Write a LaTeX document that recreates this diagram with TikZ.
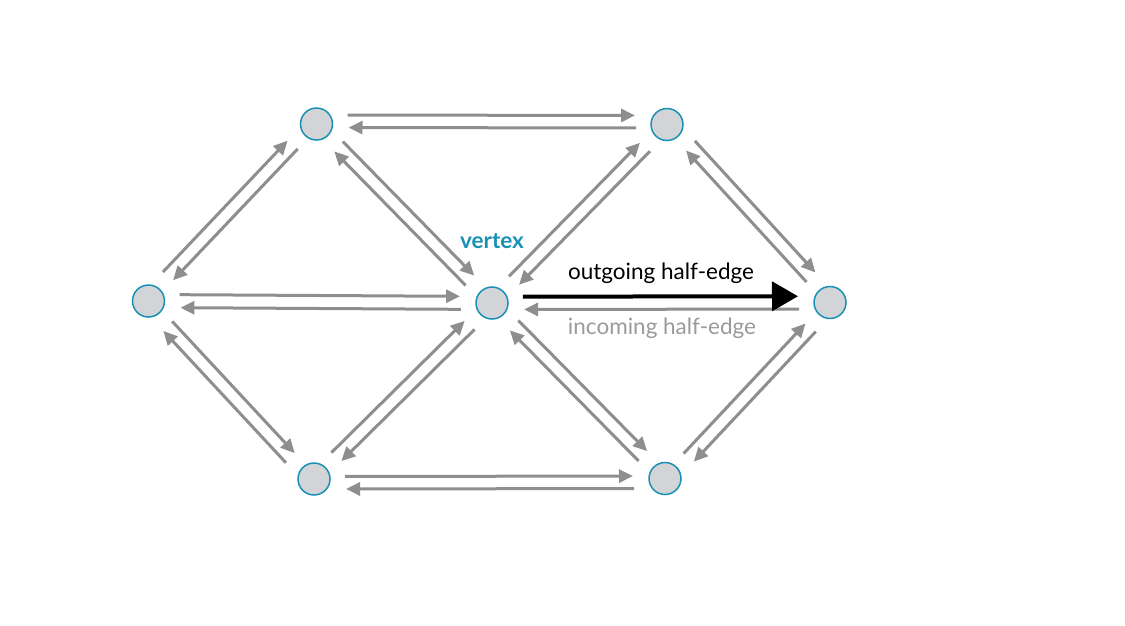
\documentclass[tikz,border=0pt]{standalone}
\usepackage{fontspec}
\setmainfont{Lato}
\usetikzlibrary{calc,arrows.meta}
\definecolor{vblue}{HTML}{1A91B4}
\definecolor{vfill}{HTML}{D2D4D8}
\definecolor{hegray}{HTML}{8E8E8E}
\definecolor{txtgray}{HTML}{9A9A9A}
\newcommand{\halfedge}[4][he]{%
  \draw[#1] ($(#2)!31pt!(#3)!#4!90:(#3)$) -- ($(#3)!32pt!(#2)!#4!-90:(#2)$);}
\begin{document}
\begin{tikzpicture}[x=1pt,y=-1pt,
  vtx/.style={circle,minimum size=32pt,inner sep=0pt,fill=vfill,draw=vblue,line width=1.5pt},
  he/.style={draw=hegray,line width=3pt,-{Triangle[length=14pt,width=13pt]},fill=hegray},
  hebold/.style={draw=black,line width=4pt,-{Triangle[length=26pt,width=29pt]}},
  lbl/.style={font=\fontsize{22.5}{26}\selectfont,inner sep=0pt}]
\useasboundingbox (0,0) rectangle (1125,625);
\node[vtx] (A) at (148.5,301) {};
\node[vtx] (B) at (316.5,124) {};
\node[vtx] (C) at (667,124.5) {};
\node[vtx] (D) at (492,303) {};
\node[vtx] (E) at (830,302.5) {};
\node[vtx] (F) at (314,479) {};
\node[vtx] (G) at (665,478.5) {};
% outer ring (pairs shifted outward)
\halfedge{A}{B}{9.5pt}
\halfedge{B}{A}{3.5pt}
\halfedge{B}{C}{9pt}
\halfedge{C}{B}{3.5pt}
\halfedge{C}{E}{9.5pt}
\halfedge{E}{C}{3.5pt}
\halfedge{E}{G}{9.5pt}
\halfedge{G}{E}{3.5pt}
\halfedge{G}{F}{10pt}
\halfedge{F}{G}{2.5pt}
\halfedge{F}{A}{9.5pt}
\halfedge{A}{F}{3.5pt}
% inner spokes
\halfedge{A}{D}{6.5pt}
\halfedge{D}{A}{6.5pt}
\halfedge{B}{D}{6.5pt}
\halfedge{D}{B}{6.5pt}
\halfedge{C}{D}{6.5pt}
\halfedge{D}{C}{6.5pt}
\halfedge{F}{D}{6.5pt}
\halfedge{D}{F}{6.5pt}
\halfedge{G}{D}{6.5pt}
\halfedge{D}{G}{6.5pt}
\halfedge{E}{D}{6.5pt}
\halfedge[hebold]{D}{E}{6.3pt}
% labels
\node[lbl,text=vblue,font=\fontsize{22.5}{26}\selectfont\bfseries] (vlab) at (492,241) {vertex};
\node[lbl,text=black] (outlab) at (661,273) {outgoing half-edge};
\node[lbl,text=txtgray] (inlab) at (662,328) {incoming half-edge};
\end{tikzpicture}
\end{document}
